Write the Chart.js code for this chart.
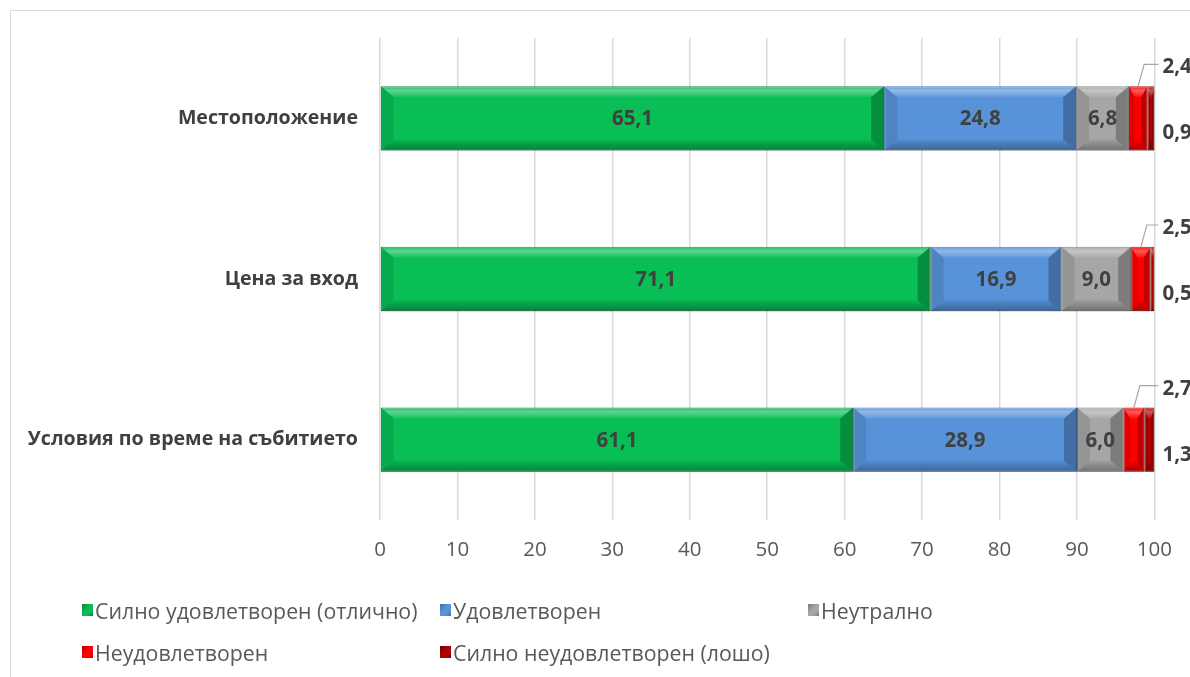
<!DOCTYPE html>
<html>
<head>
<meta charset="utf-8">
<script src="https://cdn.jsdelivr.net/npm/chart.js@4"></script>
<style>
html,body{margin:0;padding:0;background:#fff;}
#wrap{position:relative;width:1190px;height:677px;overflow:hidden;background:#fff;}
#frame{position:absolute;left:10px;top:10px;width:1300px;height:800px;border:1.5px solid #D9D9D9;box-sizing:border-box;}
#c{position:absolute;left:0;top:0;}
#legend{position:absolute;left:0;top:0;width:1190px;height:677px;pointer-events:none;font-family:"Open Sans",sans-serif;font-size:21.3px;color:#595959;}
.li{position:absolute;display:flex;align-items:center;white-space:nowrap;height:28px;}
.mk{width:11px;height:12px;margin-right:2px;box-sizing:border-box;}
</style>
</head>
<body>
<div id="wrap">
<div id="frame"></div>
<canvas id="c" width="1190" height="677"></canvas>
<div id="legend"></div>
</div>
<script>
const categories = ["Местоположение", "Цена за вход", "Условия по време на събитието"];
const seriesNames = ["Силно удовлетворен (отлично)", "Удовлетворен", "Неутрално", "Неудовлетворен", "Силно неудовлетворен (лошо)"];
const veryPleased = [65.1, 71.1, 61.1];
const pleased = [24.8, 16.9, 28.9];
const neutral = [6.8, 9.0, 6.0];
const displeased = [2.4, 2.5, 2.7];
const veryDispleased = [0.9, 0.5, 1.3];
const xTicks = [0, 10, 20, 30, 40, 50, 60, 70, 80, 90, 100];

const colors = ["#08BE55", "#5893DA", "#A6A6A6", "#FF0000", "#B00000"];
const edges = ["#06803A", "#3A6FB0", "#7A7A7A", "#B00000", "#700000"];
const seriesData = [veryPleased, pleased, neutral, displeased, veryDispleased];

const fmt = v => v.toFixed(1).replace('.', ',');

const bevelPlugin = {
  id: 'bevel',
  afterDatasetsDraw(chart) {
    const ctx = chart.ctx;
    chart.data.datasets.forEach((ds, di) => {
      const meta = chart.getDatasetMeta(di);
      meta.data.forEach(el => {
        const p = el.getProps(['x', 'y', 'base', 'height'], true);
        const l = Math.min(p.base, p.x), r = Math.max(p.base, p.x);
        const t = p.y - p.height / 2, b = p.y + p.height / 2;
        const w = r - l;
        const bv = Math.min(13, w / 3);
        const bh = 11;
        ctx.save();
        let g = ctx.createLinearGradient(0, t, 0, t + bh);
        g.addColorStop(0, 'rgba(255,255,255,0.10)');
        g.addColorStop(0.4, 'rgba(255,255,255,0.35)');
        g.addColorStop(1, 'rgba(255,255,255,0.05)');
        ctx.fillStyle = g;
        ctx.beginPath();
        ctx.moveTo(l, t); ctx.lineTo(r, t); ctx.lineTo(r - bv, t + bh); ctx.lineTo(l + bv, t + bh); ctx.closePath(); ctx.fill();
        g = ctx.createLinearGradient(0, b - bh, 0, b);
        g.addColorStop(0, 'rgba(0,0,0,0.05)');
        g.addColorStop(1, 'rgba(0,0,0,0.32)');
        ctx.fillStyle = g;
        ctx.beginPath();
        ctx.moveTo(l, b); ctx.lineTo(r, b); ctx.lineTo(r - bv, b - bh); ctx.lineTo(l + bv, b - bh); ctx.closePath(); ctx.fill();
        ctx.fillStyle = 'rgba(0,0,0,0.10)';
        ctx.beginPath();
        ctx.moveTo(l, t); ctx.lineTo(l + bv, t + bh); ctx.lineTo(l + bv, b - bh); ctx.lineTo(l, b); ctx.closePath(); ctx.fill();
        ctx.fillStyle = 'rgba(0,0,0,0.25)';
        ctx.beginPath();
        ctx.moveTo(r, t); ctx.lineTo(r - bv, t + bh); ctx.lineTo(r - bv, b - bh); ctx.lineTo(r, b); ctx.closePath(); ctx.fill();
        ctx.restore();
      });
    });
  }
};

const labelPlugin = {
  id: 'vlabels',
  afterDraw(chart) {
    const ctx = chart.ctx;
    ctx.save();
    ctx.font = 'bold 20.5px "Open Sans", sans-serif';
    ctx.fillStyle = '#404040';
    ctx.textBaseline = 'middle';
    const xs = chart.scales.x;
    chart.data.datasets.forEach((ds, di) => {
      const meta = chart.getDatasetMeta(di);
      meta.data.forEach((el, i) => {
        const p = el.getProps(['x', 'y', 'base', 'height'], true);
        const v = ds.data[i];
        const txt = fmt(v);
        if (di < 3) {
          ctx.textAlign = 'center';
          ctx.fillText(txt, (p.x + p.base) / 2, p.y + 1);
        } else if (di === 3) {
          const lx = xs.getPixelForValue(100) + 8;
          const ly = p.y - 51;
          const cx = (p.x + p.base) / 2;
          ctx.strokeStyle = '#A6A6A6';
          ctx.lineWidth = 1.2;
          ctx.beginPath();
          ctx.moveTo(cx, p.y - p.height / 2);
          ctx.lineTo(cx + 6, ly - 3);
          ctx.lineTo(lx - 4, ly - 3);
          ctx.stroke();
          ctx.textAlign = 'left';
          ctx.fillText(txt, lx, ly);
        } else {
          const lx = xs.getPixelForValue(100) + 8;
          ctx.textAlign = 'left';
          ctx.fillText(txt, lx, p.y + 15);
        }
      });
    });
    ctx.restore();
  }
};

const datasets = seriesNames.map((n, i) => ({
  label: n,
  data: seriesData[i],
  backgroundColor: colors[i],
  borderColor: edges[i],
  borderWidth: 1,
  borderSkipped: false,
  barPercentage: 0.8,
  categoryPercentage: 0.5
}));

new Chart(document.getElementById('c'), {
  type: 'bar',
  data: { labels: categories, datasets },
  plugins: [bevelPlugin, labelPlugin],
  options: {
    indexAxis: 'y',
    responsive: false,
    animation: false,
    devicePixelRatio: 1,
    layout: { padding: { left: 0, right: 35, top: 38, bottom: 107 } },
    plugins: { legend: { display: false }, tooltip: { enabled: false } },
    scales: {
      x: {
        stacked: true, min: 0, max: 100,
        afterBuildTicks: s => { s.ticks = xTicks.map(v => ({ value: v })); },
        afterFit: s => { s.height = 50; },
        grid: { color: '#D9D9D9', lineWidth: 1.5, drawTicks: false },
        border: { display: false },
        ticks: { color: '#595959', font: { family: '"Open Sans", sans-serif', size: 20.5 }, padding: 18 }
      },
      y: {
        stacked: true,
        afterFit: s => { s.width = 380; },
        grid: { display: false, drawTicks: false },
        border: { display: false },
        ticks: { color: '#404040', font: { family: '"Open Sans", sans-serif', size: 19.6, weight: 'bold' }, padding: 22 }
      }
    }
  }
});

const legendPos = [[82, 610], [440, 610], [808, 610], [82, 652], [440, 652]];
const lg = document.getElementById('legend');
seriesNames.forEach((n, i) => {
  const d = document.createElement('div');
  d.className = 'li';
  d.style.left = legendPos[i][0] + 'px';
  d.style.top = (legendPos[i][1] - 14) + 'px';
  const m = document.createElement('div');
  m.className = 'mk';
  m.style.background = 'linear-gradient(135deg,' + edges[i] + ' 0%,' + colors[i] + ' 45%,' + colors[i] + ' 70%,' + edges[i] + ' 100%)';
  const s = document.createElement('span');
  s.textContent = n;
  d.appendChild(m); d.appendChild(s);
  lg.appendChild(d);
});
</script>
</body>
</html>
